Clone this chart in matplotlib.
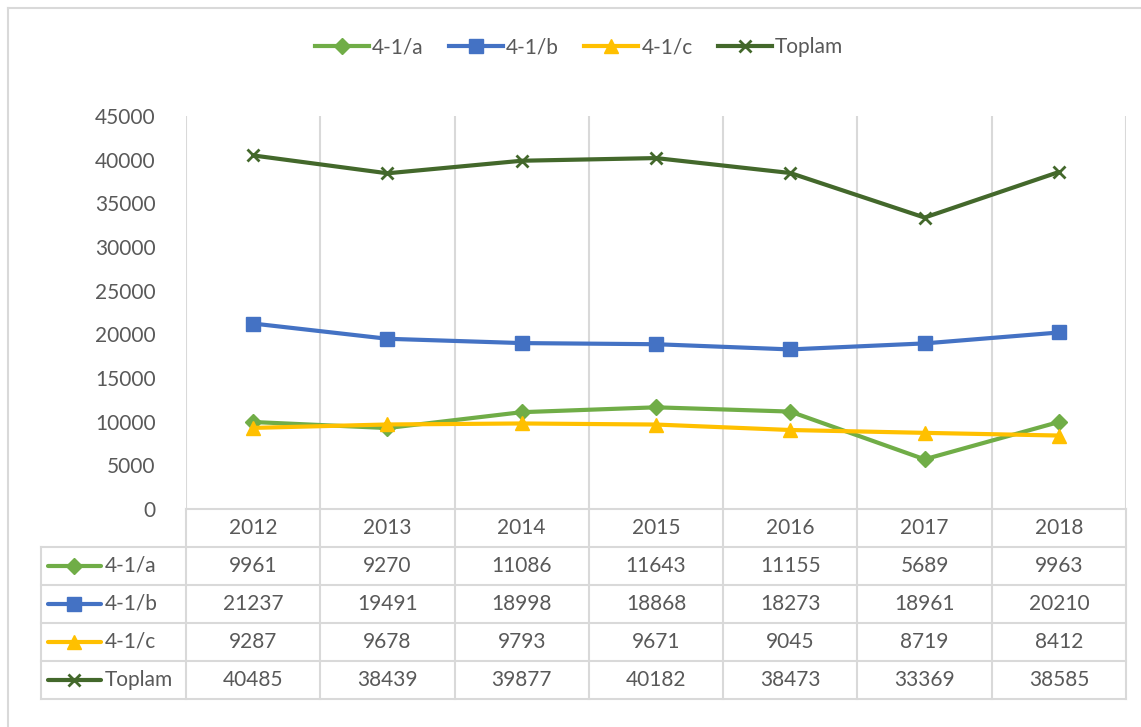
import matplotlib
matplotlib.use("Agg")
import matplotlib.pyplot as plt
from matplotlib.lines import Line2D

years = ["2012", "2013", "2014", "2015", "2016", "2017", "2018"]
a_vals = [9961, 9270, 11086, 11643, 11155, 5689, 9963]
b_vals = [21237, 19491, 18998, 18868, 18273, 18961, 20210]
c_vals = [9287, 9678, 9793, 9671, 9045, 8719, 8412]
t_vals = [40485, 38439, 39877, 40182, 38473, 33369, 38585]
series_names = ["4-1/a", "4-1/b", "4-1/c", "Toplam"]
yticks = [0, 5000, 10000, 15000, 20000, 25000, 30000, 35000, 40000, 45000]

colors = ["#70AD47", "#4472C4", "#FFC000", "#43682B"]
markers = ["D", "s", "^", "x"]
msizes = [8, 10, 10, 9]
series = [a_vals, b_vals, c_vals, t_vals]

FONT = "Lato"
TXT = "#595959"
GRID = "#D9D9D9"
FS = 15

W, H = 1141, 727
fig = plt.figure(figsize=(W / 100, H / 100), dpi=100)

def fx(px):
    return px / W

def fy(py):
    return 1 - py / H

# outer frame (only top and left visible)
fig.add_artist(Line2D([fx(8), fx(1141)], [fy(8), fy(8)], color=GRID, lw=1.5))
fig.add_artist(Line2D([fx(8), fx(8)], [fy(8), fy(727)], color=GRID, lw=1.5))

L, R, T, B = 186, 1126, 116, 509
ax = fig.add_axes([fx(L), fy(B), fx(R - L), (B - T) / H])
n = len(years)
x = list(range(n))
for vals, col, mk, ms, name in zip(series, colors, markers, msizes, series_names):
    mew = 2 if mk == "x" else 1
    ax.plot(x, vals, color=col, lw=3, marker=mk, markersize=ms,
            markeredgewidth=mew, markerfacecolor=col, markeredgecolor=col,
            label=name, solid_capstyle="round", zorder=3)
ax.set_xlim(-0.5, n - 0.5)
ax.set_ylim(0, 45000)
ax.set_yticks(yticks)
ax.set_yticklabels([str(v) for v in yticks], fontfamily=FONT, fontsize=FS, color=TXT)
ax.tick_params(axis="y", length=0, pad=22)
ax.set_xticks([])
for k in range(n + 1):
    ax.axvline(k - 0.5, color=GRID, lw=1.5, zorder=1)
for s in ["top", "right", "left"]:
    ax.spines[s].set_visible(False)
ax.spines["bottom"].set_color(GRID)
ax.spines["bottom"].set_linewidth(1.5)

# legend
handles = [Line2D([0], [0], color=c, lw=3, marker=m, markersize=s,
                  markerfacecolor=c, markeredgecolor=c,
                  markeredgewidth=(2 if m == "x" else 1))
           for c, m, s in zip(colors, markers, msizes)]
leg = fig.legend(handles, series_names, loc="center", bbox_to_anchor=(fx(579), fy(47)),
                 ncol=4, frameon=False, handlelength=2.6, handletextpad=0.15,
                 columnspacing=1.2, prop={"family": FONT, "size": FS})
for t in leg.get_texts():
    t.set_color(TXT)

# data table
TB = 699
tab = fig.add_axes([fx(L), fy(TB), fx(R - L), (TB - B) / H])
tab.set_xlim(-0.5, n - 0.5)
tab.set_ylim(5, 0)
tab.axis("off")
colw = (R - L) / n

def dx(px):
    return -0.5 + (px - L) / colw

for r in range(1, 6):
    tab.plot([dx(41), n - 0.5], [r, r], color=GRID, lw=1.5, clip_on=False)
for k in range(n + 1):
    tab.plot([k - 0.5, k - 0.5], [0, 5], color=GRID, lw=1.5, clip_on=False)
tab.plot([dx(41), dx(41)], [1, 5], color=GRID, lw=1.5, clip_on=False)

for i, yr in enumerate(years):
    tab.text(i, 0.5, yr, ha="center", va="center", fontfamily=FONT, fontsize=FS, color=TXT)
for r, (vals, col, mk, ms, name) in enumerate(zip(series, colors, markers, msizes, series_names), start=1):
    yc = r + 0.5
    for i, v in enumerate(vals):
        tab.text(i, yc, str(v), ha="center", va="center", fontfamily=FONT, fontsize=FS, color=TXT)
    tab.plot([dx(48), dx(101)], [yc, yc], color=col, lw=3, clip_on=False, solid_capstyle="round")
    tab.plot([dx(74)], [yc], marker=mk, markersize=ms, color=col,
             markeredgewidth=(2 if mk == "x" else 1), clip_on=False)
    tab.text(dx(105), yc, name, ha="left", va="center", fontfamily=FONT, fontsize=FS, color=TXT)

fig.savefig("out.png", dpi=100)
